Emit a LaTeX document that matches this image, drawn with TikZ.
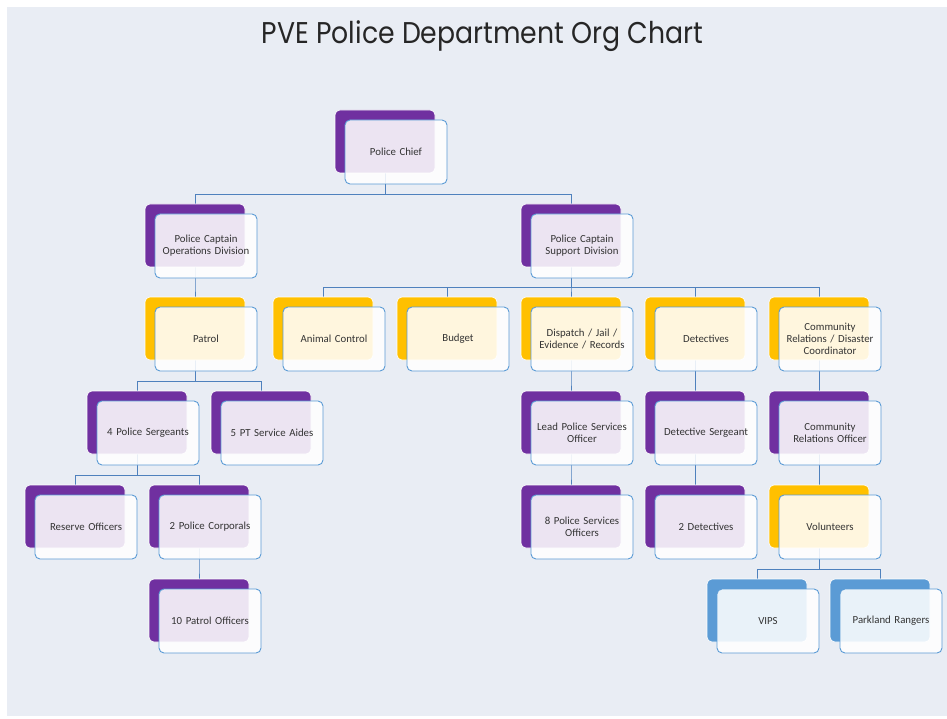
\documentclass[tikz,border=0pt]{standalone}
\usepackage{fontspec}
\setmainfont{Carlito}
\newfontfamily\titlefont{Poppins}
\usetikzlibrary{calc}
\definecolor{pagebg}{HTML}{E9EDF4}
\definecolor{chiefpurple}{HTML}{7030A0}
\definecolor{unitgold}{HTML}{FFC000}
\definecolor{volblue}{HTML}{5B9BD5}
\definecolor{frameblue}{HTML}{5B9BD5}
\definecolor{linkblue}{HTML}{4F81BD}
\definecolor{labelgray}{HTML}{333333}
\pgfdeclarelayer{bg}
\pgfsetlayers{bg,main}
\tikzset{
  backbox/.style={draw=white, line width=0.6pt, rounded corners=5pt,
    minimum width=100pt, minimum height=63pt, inner sep=0pt, outer sep=0pt},
  frontbox/.style={draw=frameblue, fill=white, fill opacity=0.87, text opacity=1,
    line width=0.9pt, rounded corners=5pt, minimum width=102pt, minimum height=64pt,
    text width=98pt, align=center, inner sep=2pt, text=labelgray,
    font=\fontsize{10.8}{12}\selectfont},
  link/.style={draw=linkblue, line width=0.8pt}
}
% #1=name, #2=colour, #3/#4=top left of the back box, #5=label
\newcommand{\OrgBox}[5]{%
  \node[backbox, fill=#2, anchor=north west] (#1b) at (#3,#4) {};
  \node[frontbox] (#1) at ({#3+61},{#4+42}) {#5};
}
% elbow from parent to child, bus 10 above the child
\newcommand{\OrgLink}[2]{%
  \draw[link] (#1b.south) |- ($(#2b.north)+(0,-10)$) -- (#2b.north);
}

\begin{document}
\begin{tikzpicture}[x=1pt,y=-1pt]
  \useasboundingbox (0,0) rectangle (947,719);

  \node[anchor=base] (title) at (482.5,44)
    {\resizebox{441pt}{\height}{\titlefont\fontsize{30}{32}\selectfont\color{black!85}PVE Police Department Org Chart}};

  % top
  \OrgBox{chief}{chiefpurple}{335}{110}{Police Chief}
  % captains
  \OrgBox{opscap}{chiefpurple}{145}{204}{Police Captain\\Operations Division}
  \OrgBox{supcap}{chiefpurple}{521}{204}{Police Captain\\Support Division}
  % divisions
  \OrgBox{patrol}{unitgold}{145}{297}{Patrol}
  \OrgBox{animal}{unitgold}{273}{297}{Animal Control}
  \OrgBox{budget}{unitgold}{397}{297}{Budget}
  \OrgBox{dispatch}{unitgold}{521}{297}{Dispatch / Jail /\\Evidence / Records}
  \OrgBox{detect}{unitgold}{645}{297}{Detectives}
  \OrgBox{commrel}{unitgold}{769}{297}{Community\\Relations / Disaster\\Coordinator}
  % fourth row
  \OrgBox{sergeants}{chiefpurple}{87}{391}{4 Police Sergeants}
  \OrgBox{aides}{chiefpurple}{211}{391}{5 PT Service Aides}
  \OrgBox{leadpso}{chiefpurple}{521}{391}{Lead Police Services\\Officer}
  \OrgBox{detsgt}{chiefpurple}{645}{391}{Detective Sergeant}
  \OrgBox{crofficer}{chiefpurple}{769}{391}{Community\\Relations Officer}
  % fifth row
  \OrgBox{reserve}{chiefpurple}{25}{485}{Reserve Officers}
  \OrgBox{corporals}{chiefpurple}{149}{485}{2 Police Corporals}
  \OrgBox{pso}{chiefpurple}{521}{485}{8 Police Services\\Officers}
  \OrgBox{twodet}{chiefpurple}{645}{485}{2 Detectives}
  \OrgBox{volunteers}{unitgold}{769}{485}{Volunteers}
  % bottom
  \OrgBox{patroloff}{chiefpurple}{149}{579}{10 Patrol Officers}
  \OrgBox{vips}{volblue}{707}{579}{VIPS}
  \OrgBox{rangers}{volblue}{830}{579}{Parkland Rangers}

  \begin{pgfonlayer}{bg}
    \fill[white] (0,0) rectangle (947,719);
    \fill[pagebg] (7,7) rectangle (947,716);
    \OrgLink{chief}{opscap}
    \OrgLink{chief}{supcap}
    \OrgLink{opscap}{patrol}
    \foreach \c in {animal,budget,dispatch,detect,commrel}{\OrgLink{supcap}{\c}}
    \OrgLink{patrol}{sergeants}
    \OrgLink{patrol}{aides}
    \OrgLink{sergeants}{reserve}
    \OrgLink{sergeants}{corporals}
    \OrgLink{corporals}{patroloff}
    \OrgLink{dispatch}{leadpso}
    \OrgLink{leadpso}{pso}
    \OrgLink{detect}{detsgt}
    \OrgLink{detsgt}{twodet}
    \OrgLink{commrel}{crofficer}
    \OrgLink{crofficer}{volunteers}
    \OrgLink{volunteers}{vips}
    \OrgLink{volunteers}{rangers}
  \end{pgfonlayer}
\end{tikzpicture}
\end{document}
